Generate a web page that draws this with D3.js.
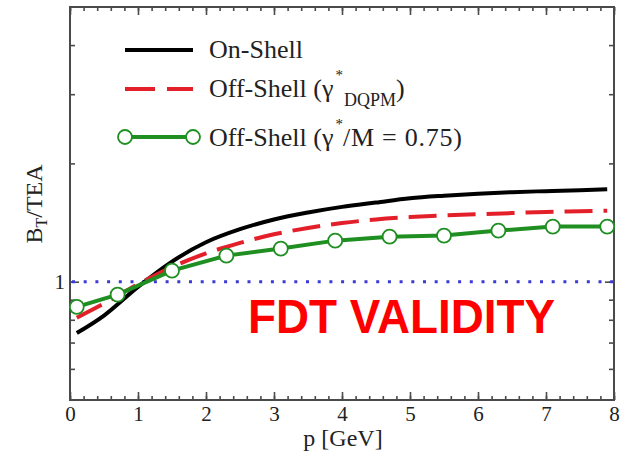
<!DOCTYPE html>
<html>
<head>
<style>
  body { margin: 0; background: #fff; }
  text { font-family: "Liberation Serif", "DejaVu Serif", serif; fill: #222; }
</style>
<script src="https://d3js.org/d3.v7.min.js"></script>
</head>
<body>
<svg width="625" height="451"></svg>
<script>
// values
const pGrid = [0.1, 0.5, 1.0, 1.5, 2.0, 2.5, 3.0, 3.5, 4.0, 4.5, 5.0, 5.5, 6.0, 6.5, 7.0, 7.5, 7.9];
const onShell = [0.74, 0.82, 0.97, 1.125, 1.26, 1.36, 1.44, 1.50, 1.55, 1.59, 1.63, 1.655, 1.675, 1.69, 1.70, 1.71, 1.72];
const offShellDqpm = [0.81, 0.88, 0.985, 1.09, 1.18, 1.255, 1.32, 1.37, 1.41, 1.44, 1.46, 1.475, 1.485, 1.495, 1.505, 1.51, 1.515];
const pMarkers = [0.1, 0.7, 1.5, 2.3, 3.1, 3.9, 4.7, 5.5, 6.3, 7.1, 7.9];
const offShell075 = [0.863, 0.927, 1.067, 1.165, 1.214, 1.272, 1.302, 1.31, 1.349, 1.381, 1.381];
const xTicks = [0, 1, 2, 3, 4, 5, 6, 7, 8];
const yTicks = [0.6, 0.7, 0.8, 0.9, 1, 2, 3, 4];

const mLeft = 70, mRight = 614, mTop = 7, mBottom = 400;
const svg = d3.select("svg");

const x = d3.scaleLinear().domain([0, 8]).range([mLeft, mRight]);
const y = d3.scaleLog().domain([0.5, 5]).range([mBottom, mTop]);

const frameColor = "#4a4a4a";

// minor x ticks, bottom and top
const xMinor = d3.range(0, 8.01, 0.2);
svg.append("g").attr("transform", `translate(0,${mBottom})`)
  .call(d3.axisBottom(x).tickValues(xMinor).tickSize(-4).tickFormat(""));
svg.append("g").attr("transform", `translate(0,${mTop})`)
  .call(d3.axisTop(x).tickValues(xMinor).tickSize(-4).tickFormat(""));

// major x ticks
svg.append("g").attr("transform", `translate(0,${mBottom})`)
  .call(d3.axisBottom(x).tickValues(xTicks).tickSize(-8).tickPadding(6).tickFormat(d3.format("d")));
svg.append("g").attr("transform", `translate(0,${mTop})`)
  .call(d3.axisTop(x).tickValues(xTicks).tickSize(-8).tickFormat(""));

// y ticks (log)
svg.append("g").attr("transform", `translate(${mLeft},0)`)
  .call(d3.axisLeft(y).tickValues(yTicks).tickSize(-5).tickPadding(5).tickFormat(d => d === 1 ? "1" : ""));
svg.append("g").attr("transform", `translate(${mRight},0)`)
  .call(d3.axisRight(y).tickValues(yTicks).tickSize(-5).tickFormat(""));
svg.append("g").attr("transform", `translate(${mLeft},0)`)
  .call(d3.axisLeft(y).tickValues([1]).tickSize(-9).tickFormat(""));
svg.append("g").attr("transform", `translate(${mRight},0)`)
  .call(d3.axisRight(y).tickValues([1]).tickSize(-9).tickFormat(""));

svg.selectAll(".domain").remove();
svg.selectAll(".tick line").attr("stroke", frameColor).attr("stroke-width", 1.6);
svg.selectAll(".tick text").style("font-size", "21px").style("font-family", "Liberation Serif").attr("fill", "#222");

// frame
svg.append("rect")
  .attr("x", mLeft).attr("y", mTop)
  .attr("width", mRight - mLeft).attr("height", mBottom - mTop)
  .attr("fill", "none").attr("stroke", frameColor).attr("stroke-width", 2);

// dotted reference line at 1
svg.append("line")
  .attr("x1", x(0) + 2).attr("x2", x(8))
  .attr("y1", y(1)).attr("y2", y(1))
  .attr("stroke", "#3a3ad6").attr("stroke-width", 3)
  .attr("stroke-dasharray", "3,8.7");

const line = d3.line().x(d => x(d[0])).y(d => y(d[1])).curve(d3.curveMonotoneX);

svg.append("path")
  .attr("d", line(d3.zip(pGrid, onShell)))
  .attr("fill", "none").attr("stroke", "#000").attr("stroke-width", 4);

svg.append("path")
  .attr("d", line(d3.zip(pGrid, offShellDqpm)))
  .attr("fill", "none").attr("stroke", "#e3202a").attr("stroke-width", 4)
  .attr("stroke-dasharray", "28,11");

const green = "#1f8f22";
const greenPts = d3.zip(pMarkers, offShell075);
svg.append("path")
  .attr("d", d3.line().x(d => x(d[0])).y(d => y(d[1]))(greenPts))
  .attr("fill", "none").attr("stroke", green).attr("stroke-width", 4);
svg.selectAll(".mk").data(greenPts).join("circle")
  .attr("class", "mk")
  .attr("cx", d => x(d[0])).attr("cy", d => y(d[1])).attr("r", 7)
  .attr("fill", "#fff").attr("stroke", green).attr("stroke-width", 1.8);

// legend
const lg = svg.append("g");
lg.append("line").attr("x1", 125).attr("x2", 193).attr("y1", 50).attr("y2", 50)
  .attr("stroke", "#000").attr("stroke-width", 4);
lg.append("line").attr("x1", 125).attr("x2", 193).attr("y1", 89).attr("y2", 89)
  .attr("stroke", "#e3202a").attr("stroke-width", 4).attr("stroke-dasharray", "30,12");
lg.append("line").attr("x1", 125).attr("x2", 193).attr("y1", 137).attr("y2", 137)
  .attr("stroke", green).attr("stroke-width", 4);
[125, 193].forEach(cx => lg.append("circle").attr("cx", cx).attr("cy", 137).attr("r", 7)
  .attr("fill", "#fff").attr("stroke", green).attr("stroke-width", 1.8));

lg.append("text").attr("x", 209).attr("y", 58).style("font-size", "26px").text("On-Shell");

const t2 = lg.append("text").attr("x", 209).attr("y", 97).style("font-size", "26px");
t2.append("tspan").text("Off-Shell (γ");
t2.append("tspan").attr("dy", -17).attr("dx", 2).style("font-size", "15px").text("*");
t2.append("tspan").attr("dy", 26).attr("dx", 1).style("font-size", "18px").text("DQPM");
t2.append("tspan").attr("dy", -9).text(")");

const t3 = lg.append("text").attr("x", 209).attr("y", 146).style("font-size", "26px");
t3.append("tspan").text("Off-Shell (γ");
t3.append("tspan").attr("dy", -17).attr("dx", 2).style("font-size", "15px").text("*");
t3.append("tspan").attr("dy", 17).attr("dx", 0).attr("textLength", 119).text("/M = 0.75)");

// axis titles
svg.append("text")
  .attr("x", 343).attr("y", 446).attr("text-anchor", "middle")
  .style("font-size", "24px").text("p [GeV]");

const yl = svg.append("text")
  .attr("transform", "translate(42,204) rotate(-90)")
  .attr("text-anchor", "middle").style("font-size", "24px");
yl.append("tspan").text("B");
yl.append("tspan").attr("dy", 5).style("font-size", "16px").text("T");
yl.append("tspan").attr("dy", -5).text("/TEA");

// annotation
svg.append("text")
  .attr("x", 248).attr("y", 333)
  .attr("textLength", 307).attr("lengthAdjust", "spacingAndGlyphs")
  .style("font-family", "'Liberation Sans', Arial, sans-serif")
  .style("font-weight", "bold").style("font-size", "49px")
  .style("fill", "#ff0000")
  .text("FDT VALIDITY");
</script>
</body>
</html>
